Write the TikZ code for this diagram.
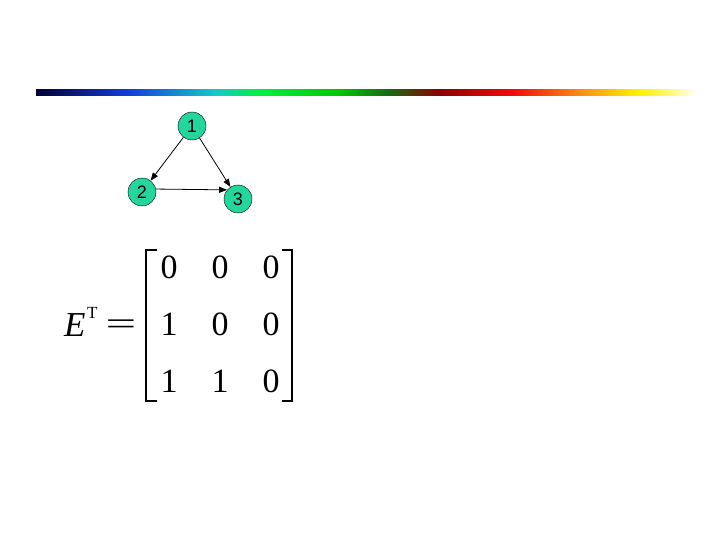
\documentclass[tikz,border=0pt]{standalone}
\usepackage{fontspec}
\setmainfont{Liberation Serif}
\newfontfamily\arialfont{Liberation Sans}
\usepackage{graphicx}
\usepackage{tikz}
\usetikzlibrary{arrows.meta}

\definecolor{nodegreen}{RGB}{36,214,156}
\pgfdeclarehorizontalshading{spectrum}{100bp}{%
  color(0bp)=(black!80!blue);
  color(25bp)=(black!80!blue);
  color(32bp)=(rgb,255:red,20;green,60;blue,220);
  color(38.5bp)=(rgb,255:red,20;green,200;blue,200);
  color(41.8bp)=(rgb,255:red,0;green,240;blue,70);
  color(47.8bp)=(rgb,255:red,0;green,200;blue,0);
  color(51.5bp)=(rgb,255:red,20;green,110;blue,20);
  color(55.5bp)=(rgb,255:red,140;green,0;blue,0);
  color(61bp)=(rgb,255:red,240;green,10;blue,10);
  color(66.5bp)=(rgb,255:red,250;green,150;blue,20);
  color(70.5bp)=(rgb,255:red,255;green,240;blue,0);
  color(73bp)=(rgb,255:red,255;green,250;blue,120);
  color(75bp)=(white);
  color(100bp)=(white)}

\tikzset{
  vertex/.style={circle, draw=black, fill=nodegreen, minimum size=28pt, inner sep=0pt, font=\arialfont\fontsize{18}{18}\selectfont},
  edge/.style={-{Triangle[length=8pt,width=6pt]}, line width=0.8pt},
  entry/.style={inner sep=0pt, font=\fontsize{34}{34}\selectfont},
  bracket/.style={line width=1.6pt}
}

\begin{document}
\begin{tikzpicture}[x=1pt, y=-1pt]
    \useasboundingbox (0,0) rectangle (720,540);

    % colour bar
    \shade[shading=spectrum] (36,90) rectangle (697,96);

    % graph
    \node[vertex] (v1) at (192,126) {1};
    \node[vertex] (v2) at (142,192) {2};
    \node[vertex] (v3) at (238,199) {3};

    \draw[edge] (v1) -- (v2);
    \draw[edge] (v1) -- (v3);
    \draw[edge] (v2.12) -- (v3.140);

    % matrix E^T
    \node[inner sep=0pt, anchor=base west, font=\itshape\fontsize{35}{35}\selectfont] (E) at (64,336) {E};
    \node[inner sep=0pt, anchor=base west, font=\fontsize{17}{17}\selectfont] (T) at (87,318) {T};
    \node[inner sep=0pt, font=\fontsize{32}{32}\selectfont] (eq) at (121,327) {\scalebox{1.7}[1]{=}};

    \foreach \val [count=\i from 0] in {0,0,0,1,0,0,1,1,0} {
        \pgfmathtruncatemacro{\r}{int(\i/3)}
        \pgfmathtruncatemacro{\c}{mod(\i,3)}
        \node[entry, anchor=base] (m\r\c) at (169+51*\c, 278+57*\r) {\val};
    }

    \draw[bracket] (157,250) -- (146,250) -- (146,401) -- (157,401);
    \draw[bracket] (282,250) -- (292,250) -- (292,401) -- (282,401);
\end{tikzpicture}
\end{document}
